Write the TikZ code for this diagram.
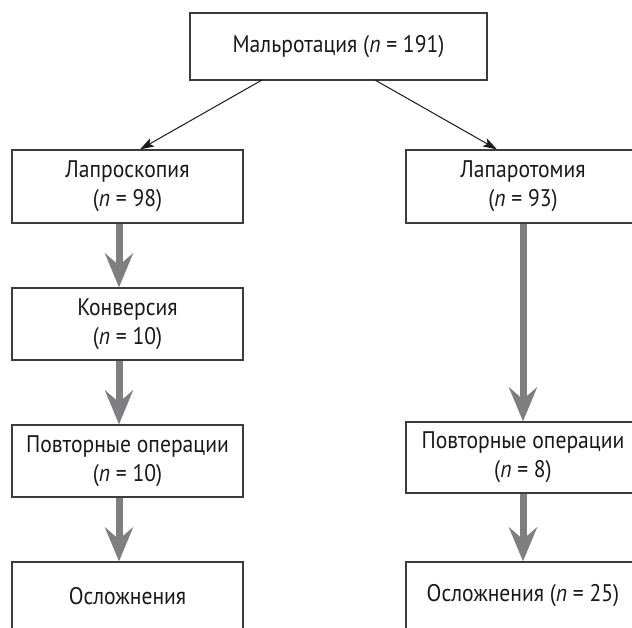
\documentclass[tikz,border=0pt]{standalone}
\usepackage{fontspec}
\setmainfont{PT Sans}[FakeStretch=0.9]
\usetikzlibrary{arrows.meta,positioning}
\definecolor{boxline}{HTML}{3C3C3C}
\definecolor{fatgray}{HTML}{7F7F82}
\tikzset{
  fbox/.style={draw=boxline, line width=1.2pt, rectangle, inner sep=0pt, align=center,
    font=\fontsize{24}{29}\selectfont, text=black!90},
  thin/.style={draw=black!90, line width=1pt, -{Stealth[length=14pt,width=9pt,inset=3pt]}},
  fat/.style={draw=fatgray, line width=7pt, -{Stealth[length=34pt,width=28pt,inset=12pt]}, color=fatgray}
}
\begin{document}
\begin{tikzpicture}[x=1pt,y=-1pt]
\useasboundingbox (0,0) rectangle (632,628);
\clip (0,0) rectangle (632,628);
% boxes
\node[fbox, minimum width=297pt, minimum height=67pt] (top) at (338.5,46.5) {Мальротация (\textit{n} = 191)};
\node[fbox, minimum width=231pt, minimum height=73pt] (lap) at (127.5,186.5) {Лапроскопия\\(\textit{n} = 98)};
\node[fbox, minimum width=231pt, minimum height=72pt] (conv) at (127.5,324) {Конверсия\\(\textit{n} = 10)};
\node[fbox, minimum width=231pt, minimum height=72pt] (repL) at (127.5,461) {Повторные операции\\(\textit{n} = 10)};
\node[fbox, minimum width=231pt, minimum height=68pt] (compL) at (127.5,596) {Осложнения};
\node[fbox, minimum width=234pt, minimum height=73pt] (lapt) at (523,186.5) {Лапаротомия\\(\textit{n} = 93)};
\node[fbox, minimum width=234pt, minimum height=71pt] (repR) at (523,457.5) {Повторные операции\\(\textit{n} = 8)};
\node[fbox, minimum width=234pt, minimum height=68pt] (compR) at (523,596) {Осложнения (\textit{n} = 25)};
% thin connectors
\coordinate (tl) at (262,80);
\coordinate (tr) at (375,80);
\draw[thin] (tl) -- ([xshift=12.5pt]lap.north);
\draw[thin] (tr) -- ([xshift=-26pt]lapt.north);
% fat arrows
\draw[fat] ([xshift=-8.5pt]lap.south) -- ([xshift=-8.5pt]conv.north);
\draw[fat] ([xshift=-8.5pt]conv.south) -- ([xshift=-8.5pt]repL.north);
\draw[fat] ([xshift=-8.5pt]repL.south) -- ([xshift=-8.5pt]compL.north);
\draw[fat] (lapt.south) -- (repR.north);
\draw[fat] (repR.south) -- (compR.north);
\end{tikzpicture}
\end{document}
